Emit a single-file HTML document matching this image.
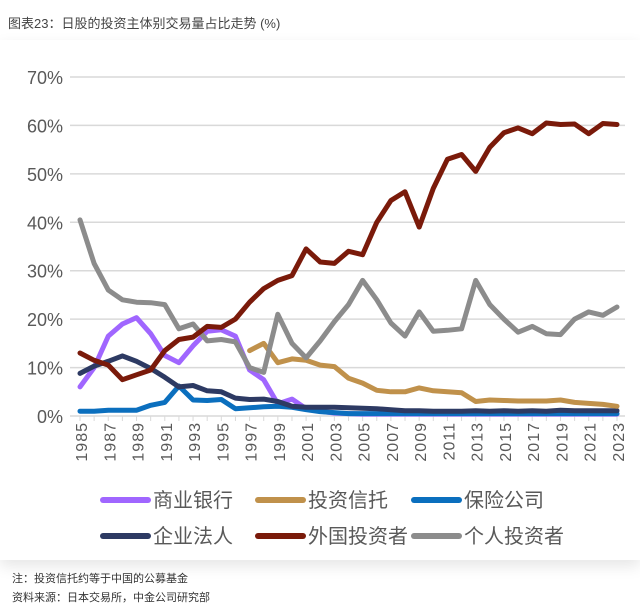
<!DOCTYPE html>
<html><head><meta charset="utf-8"><style>
body{margin:0;width:640px;height:613px;background:#fff;font-family:"Liberation Sans","Noto Sans CJK SC",sans-serif;overflow:hidden;position:relative}
.title{position:absolute;left:8px;top:13px;font-size:13px;color:#444}
.card{position:absolute;left:0;top:40px;width:640px;height:520px;box-shadow:0 6px 14px rgba(0,0,0,0.10)}
.note{position:absolute;left:12px;font-size:11px;color:#333}
</style></head><body>
<div class="title">图表23：日股的投资主体别交易量占比走势 (%)</div>
<div class="card"></div>
<svg id="chart" width="640" height="613" style="position:absolute;left:0;top:0"></svg>
<div class="note" style="top:570px">注：投资信托约等于中国的公募基金</div>
<div class="note" style="top:589px">资料来源：日本交易所，中金公司研究部</div>
<script>
const years=[];for(let y=1985;y<=2023;y++)years.push(y);
const yTicks=[0,10,20,30,40,50,60,70];
const banks=[6,10,16.5,19,20.3,17,12.5,11,14.5,17.5,17.8,16.5,9.5,7.5,2.5,3.5,1.5,1,0.6,0.5,0.4,0.4,0.4,0.4,0.4,0.4,0.4,0.4,0.4,0.4,0.4,0.4,0.4,0.4,0.4,0.4,0.4,0.4,0.4];
const trusts=[null,null,null,null,null,null,null,null,null,null,null,null,13.5,15,11,11.8,11.5,10.5,10.2,7.8,6.8,5.3,5,5,5.8,5.2,5,4.8,3,3.3,3.2,3.1,3.1,3.1,3.3,2.8,2.6,2.4,2];
const insurance=[1,1,1.2,1.2,1.2,2.2,2.8,6.2,3.3,3.2,3.4,1.5,1.7,1.9,2,1.8,1.3,0.9,0.7,0.5,0.5,0.5,0.5,0.5,0.5,0.5,0.5,0.5,0.5,0.5,0.5,0.5,0.5,0.5,0.5,0.5,0.5,0.5,0.5];
const corporate=[8.8,10.3,11.3,12.4,11.3,9.8,8,6,6.3,5.2,5,3.7,3.4,3.5,3,2,1.8,1.8,1.8,1.7,1.6,1.5,1.3,1.1,1.1,1,1,1,1.1,1,1.1,1,1.1,1,1.2,1.1,1.1,1.1,1.1];
const foreign=[13,11.5,10.5,7.5,8.5,9.5,13.5,15.8,16.3,18.5,18.3,20,23.5,26.3,28,29,34.5,31.8,31.5,34,33.3,40,44.5,46.3,39,47,53,54,50.5,55.5,58.5,59.5,58.3,60.5,60.2,60.3,58.3,60.4,60.2];
const individual=[40.5,31.5,26,24,23.5,23.4,23,18,19,15.5,15.8,15.3,10,9,21,15,12,15.5,19.5,23,28,24,19.2,16.5,21.5,17.5,17.7,18,28,23,20,17.3,18.5,17,16.8,20,21.5,20.8,22.5];
const seriesNames=["商业银行","投资信托","保险公司","企业法人","外国投资者","个人投资者"];
const NS="http://www.w3.org/2000/svg",svg=document.getElementById('chart');
const X0=80,X1=617,Y0=416,Y70=77;
const xs=i=>X0+i*(X1-X0)/(years.length-1);
const ys=v=>Y0-v*(Y0-Y70)/70;
function mk(t,a){const e=document.createElementNS(NS,t);for(const k in a)e.setAttribute(k,a[k]);svg.appendChild(e);return e;}
yTicks.forEach(v=>{
 if(v>0){const g=mk('line',{x1:70,x2:625,y1:ys(v),y2:ys(v),stroke:'#d9d9d9','stroke-width':1.5});
 
 }
 const t=mk('text',{x:63,y:ys(v)+7,'text-anchor':'end','font-size':18,fill:'#595959'});t.textContent=v+'%';
 
 
});
const ax=mk('line',{x1:70,x2:625,y1:Y0,y2:Y0,stroke:'#d9d9d9','stroke-width':1.5});


years.forEach((y,i)=>{
 const tk=mk('line',{x1:xs(i),x2:xs(i),y1:Y0,y2:Y0+5,stroke:'#d9d9d9'});
 
 
 if(i%2===0){const x=xs(i)+7,yy=Y0+6;
  const t=mk('text',{x:x,y:yy,'text-anchor':'end','font-size':16,'letter-spacing':'1',fill:'#595959',transform:`rotate(-90 ${x} ${yy})`});t.textContent=y;
  
  }
});
const data=[banks,trusts,insurance,corporate,foreign,individual];
const colors=["#a066ff","#c0914b","#0b6fbe","#2d3a63","#7a1a0a","#8c8c8c"];
const keys=["banks","trusts","insurance","corporate","foreign","individual"];
[0,2,3,1,5,4].forEach(k=>{
 let d='',pen=false;
 data[k].forEach((v,i)=>{if(v==null){pen=false;return;}d+=(pen?'L':'M')+xs(i).toFixed(1)+' '+ys(v).toFixed(1);pen=true;});
 const p=mk('path',{d:d,fill:'none',stroke:colors[k],'stroke-width':5,'stroke-linejoin':'round','stroke-linecap':'round'});
 
 
});
const lx=[103,258,414],ly=[500,536];
seriesNames.forEach((n,k)=>{
 const x=lx[k%3],y=ly[Math.floor(k/3)];
 const l=mk('line',{x1:x,x2:x+45,y1:y,y2:y,stroke:colors[k],'stroke-width':6,'stroke-linecap':'round'});
 
 
 const t=mk('text',{x:x+50,y:y+7,'font-size':20,fill:'#595959'});t.textContent=n;
 
 
});
</script>
</body></html>
